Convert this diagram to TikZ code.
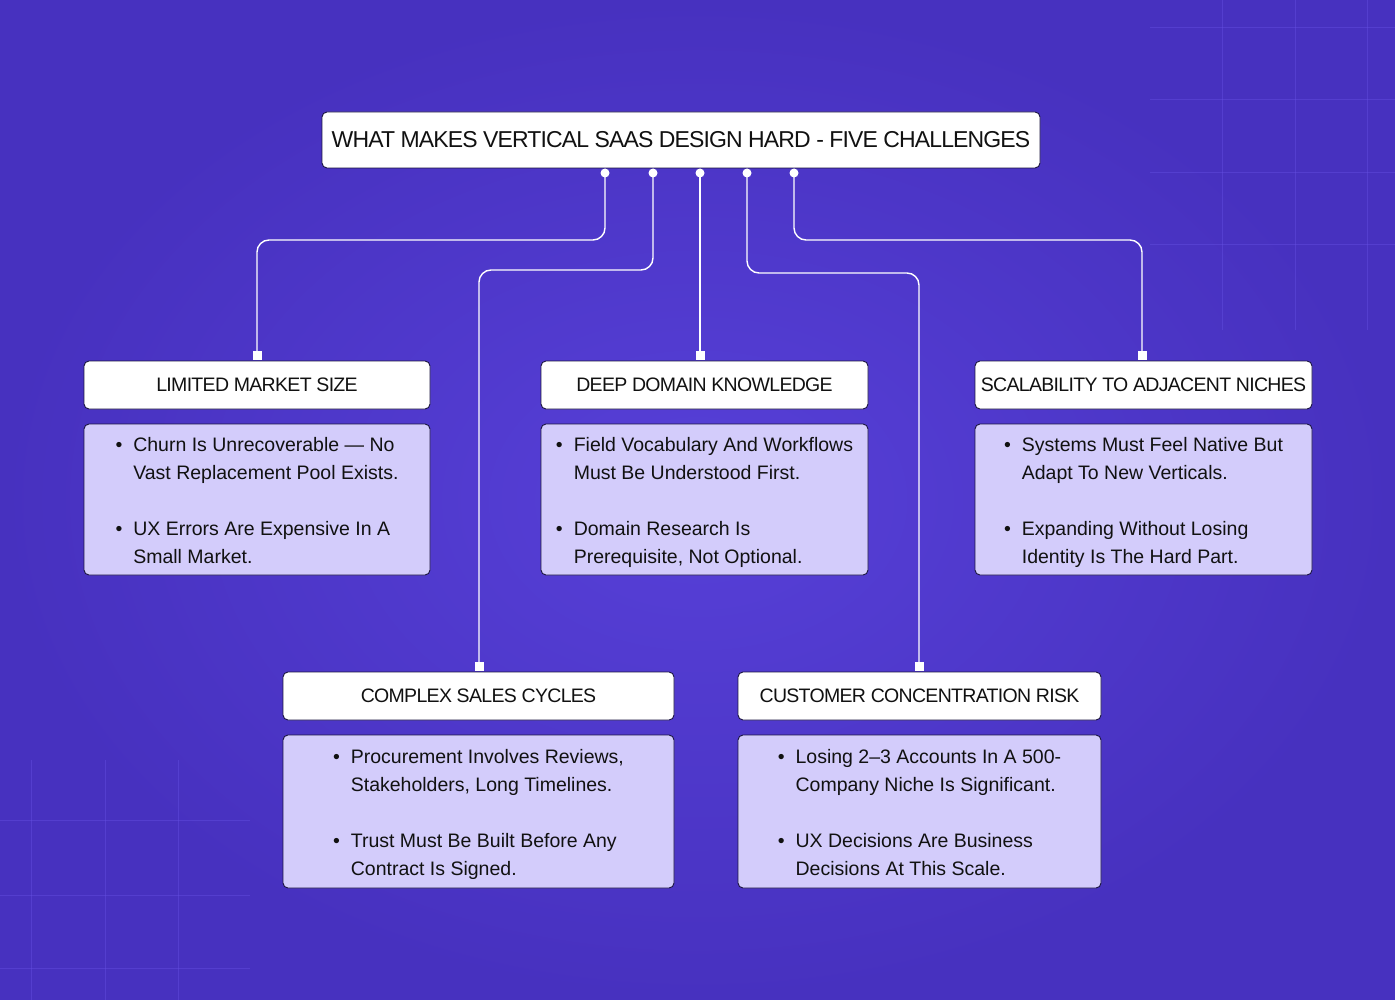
\documentclass[tikz,border=0pt]{standalone}
\usepackage{fontspec}
\setmainfont{Liberation Sans}
\usetikzlibrary{fadings}
\definecolor{bgA}{HTML}{4731BF}
\definecolor{bgB}{HTML}{5740D8}
\definecolor{bodyfill}{HTML}{D3CCFB}
\definecolor{edge}{HTML}{1C1640}
\definecolor{gridc}{HTML}{6450E2}
\definecolor{ink}{HTML}{111111}
\tikzset{
  hdr/.style={draw=edge, line width=0.9pt, fill=white, rounded corners=5pt,
    minimum height=48pt, inner sep=0pt, text=ink, font=\fontsize{19.5}{23}\selectfont\addfontfeature{LetterSpace=-3.5}},
  bodybox/.style={draw=edge, line width=0.9pt, fill=bodyfill, rounded corners=5pt,
    minimum height=151pt, inner sep=0pt, text=ink, font=\fontsize{19.5}{28}\selectfont},
  link/.style={draw=white, line width=1.4pt, rounded corners=12pt},
  dotnode/.style={circle, fill=white, minimum size=9pt, inner sep=0pt},
  endsq/.style={rectangle, fill=white, minimum size=9pt, inner sep=0pt},
  gridline/.style={draw=gridc, line width=1pt, opacity=0.45}
}
\newcommand\blist[4]{\raisebox{0pt}[\dimexpr\height+4pt\relax][\depth]{\begin{tabular}{@{}l@{\hspace{11pt}}l@{}}\textbullet & #1\\ & #2\\[28pt]\textbullet & #3\\ & #4\end{tabular}}}
\begin{document}
\begin{tikzpicture}[x=1pt,y=-1pt]
\useasboundingbox (0,0) rectangle (1395,1000);
\shade[inner color=bgB, outer color=bgA] (0,0) rectangle (1395,1000);
% faint background grid
\foreach \x in {1222,1295,1367} \draw[gridline] (\x,0) -- (\x,330);
\foreach \y in {28,100,173,245} \draw[gridline] (1150,\y) -- (1395,\y);
\foreach \x in {31,105,178} \draw[gridline] (\x,760) -- (\x,1000);
\foreach \y in {820,895,968} \draw[gridline] (0,\y) -- (250,\y);

\node[hdr, minimum width=718pt, minimum height=56pt, font=\fontsize{23}{27}\selectfont\addfontfeature{LetterSpace=-3.8}] (title) at (681,140)
  {WHAT MAKES VERTICAL SAAS DESIGN HARD - FIVE CHALLENGES};

\node[hdr, minimum width=346pt] (h1) at (257,385) {LIMITED MARKET SIZE};
\node[bodybox, minimum width=346pt] (b1) at (257,499.5)
  {\blist{Churn Is Unrecoverable --- No}{Vast Replacement Pool Exists.}{UX Errors Are Expensive In A}{Small Market.}};
\node[hdr, minimum width=327pt] (h2) at (704.5,385) {DEEP DOMAIN KNOWLEDGE};
\node[bodybox, minimum width=327pt] (b2) at (704.5,499.5)
  {\blist{Field Vocabulary And Workflows}{Must Be Understood First.}{Domain Research Is}{Prerequisite, Not Optional.}};
\node[hdr, minimum width=337pt] (h3) at (1143.5,385) {SCALABILITY TO ADJACENT NICHES};
\node[bodybox, minimum width=337pt] (b3) at (1143.5,499.5)
  {\blist{Systems Must Feel Native But}{Adapt To New Verticals.}{Expanding Without Losing}{Identity Is The Hard Part.}};
\node[hdr, minimum width=391pt] (h4) at (478.5,696) {COMPLEX SALES CYCLES};
\node[bodybox, minimum width=391pt, minimum height=153pt] (b4) at (478.5,811.5)
  {\blist{Procurement Involves Reviews,}{Stakeholders, Long Timelines.}{Trust Must Be Built Before Any}{Contract Is Signed.}};
\node[hdr, minimum width=363pt] (h5) at (919.5,696) {CUSTOMER CONCENTRATION RISK};
\node[bodybox, minimum width=363pt, minimum height=153pt] (b5) at (919.5,811.5)
  {\blist{Losing 2–3 Accounts In A 500-}{Company Niche Is Significant.}{UX Decisions Are Business}{Decisions At This Scale.}};

% connector end squares
\node[endsq] (s1) at (257,355.5) {};
\node[endsq] (s2) at (700,355.5) {};
\node[endsq] (s3) at (1142,355.5) {};
\node[endsq] (s4) at (479,666.5) {};
\node[endsq] (s5) at (919,666.5) {};

% dots under title
\coordinate (d1) at (605,173);
\coordinate (d2) at (653,173);
\coordinate (d3) at (700,173);
\coordinate (d4) at (747,173);
\coordinate (d5) at (794,173);

\draw[link] (d1) -- ++(0,67) -| (s1.center);
\draw[link] (d2) -- ++(0,97) -| (s4.center);
\draw[link] (d3) -- (s2.center);
\draw[link] (d4) -- ++(0,100) -| (s5.center);
\draw[link] (d5) -- ++(0,67) -| (s3.center);

\foreach \d in {d1,d2,d3,d4,d5} \node[dotnode] (n\d) at (\d) {};
\end{tikzpicture}
\end{document}
